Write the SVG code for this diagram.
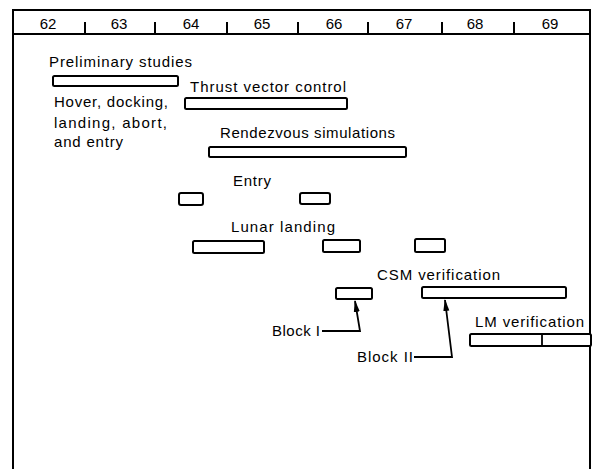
<svg xmlns="http://www.w3.org/2000/svg" width="599" height="469" viewBox="0 0 599 469">
<style>
text{font-family:"Liberation Sans","DejaVu Sans",sans-serif;font-size:15px;fill:#000}
.yr{text-anchor:middle;font-size:15px}
.bar{fill:#fff;stroke:#000;stroke-width:2}
.fr{fill:none;stroke:#000;stroke-width:2}
.ln{fill:none;stroke:#000;stroke-width:1.8}
</style>
<defs>
<marker id="ah" markerWidth="12" markerHeight="8" refX="11" refY="4" orient="auto" markerUnits="userSpaceOnUse" viewBox="0 0 12 8">
<path d="M12,4 L0,1 L0,7 Z" fill="#000"/>
</marker>
</defs>
<rect width="599" height="469" fill="#fff"/>
<g id="frame">
<path class="fr" d="M13,469 V10 H590 V469"/>
<line class="fr" x1="13" y1="34" x2="590" y2="34"/>
<g stroke="#000" stroke-width="2">
<line x1="85" y1="22" x2="85" y2="34"/>
<line x1="155" y1="22" x2="155" y2="34"/>
<line x1="227" y1="22" x2="227" y2="34"/>
<line x1="298" y1="22" x2="298" y2="34"/>
<line x1="368" y1="22" x2="368" y2="34"/>
<line x1="442" y1="22" x2="442" y2="34"/>
<line x1="514" y1="22" x2="514" y2="34"/>
</g>
<text class="yr" x="48" y="29">62</text>
<text class="yr" x="119" y="29">63</text>
<text class="yr" x="191" y="29">64</text>
<text class="yr" x="262" y="29">65</text>
<text class="yr" x="334" y="29">66</text>
<text class="yr" x="404" y="29">67</text>
<text class="yr" x="475" y="29">68</text>
<text class="yr" x="550" y="29">69</text>
</g>
<g id="preliminary">
<text x="49" y="67" textLength="143" lengthAdjust="spacing">Preliminary studies</text>
<rect class="bar" x="53" y="76" width="125" height="10" rx="1.5"/>
<text x="54" y="107" textLength="114" lengthAdjust="spacing">Hover, docking,</text>
<text x="54" y="128" textLength="113" lengthAdjust="spacing">landing, abort,</text>
<text x="54" y="147" textLength="69" lengthAdjust="spacing">and entry</text>
</g>
<g id="thrust">
<text x="190" y="92" textLength="156" lengthAdjust="spacing">Thrust vector control</text>
<rect class="bar" x="185" y="98" width="162" height="11" rx="1.5"/>
</g>
<g id="rendezvous">
<text x="220" y="138" textLength="175" lengthAdjust="spacing">Rendezvous simulations</text>
<rect class="bar" x="209" y="147" width="197" height="10" rx="1.5"/>
</g>
<g id="entry">
<text x="233" y="186" textLength="38" lengthAdjust="spacing">Entry</text>
<rect class="bar" x="179" y="193" width="24" height="12" rx="2"/>
<rect class="bar" x="300" y="193" width="30" height="11" rx="2"/>
</g>
<g id="lunar">
<text x="231" y="232" textLength="104" lengthAdjust="spacing">Lunar landing</text>
<rect class="bar" x="193" y="241" width="71" height="12" rx="1.5"/>
<rect class="bar" x="323" y="240" width="37" height="12" rx="1.5"/>
<rect class="bar" x="415" y="239" width="30" height="13" rx="1.5"/>
</g>
<g id="csm">
<text x="377" y="280" textLength="123" lengthAdjust="spacing">CSM verification</text>
<rect class="bar" x="336" y="288" width="36" height="11" rx="1.5"/>
<rect class="bar" x="422" y="287" width="144" height="11" rx="1.5"/>
</g>
<g id="lm">
<text x="475" y="327" textLength="109" lengthAdjust="spacing">LM verification</text>
<rect class="bar" x="470" y="334" width="121" height="12" rx="1.5"/>
<line class="ln" x1="542" y1="334" x2="542" y2="346"/>
</g>
<g id="labels">
<text x="272" y="336" textLength="48" lengthAdjust="spacing">Block I</text>
<text x="357" y="362" textLength="56" lengthAdjust="spacing">Block II</text>
</g>
<g id="connectors">
<path class="ln" d="M322,331 H360 L355,301" marker-end="url(#ah)"/>
<path class="ln" d="M414,357 H452 L445,300" marker-end="url(#ah)"/>
</g>
</svg>
